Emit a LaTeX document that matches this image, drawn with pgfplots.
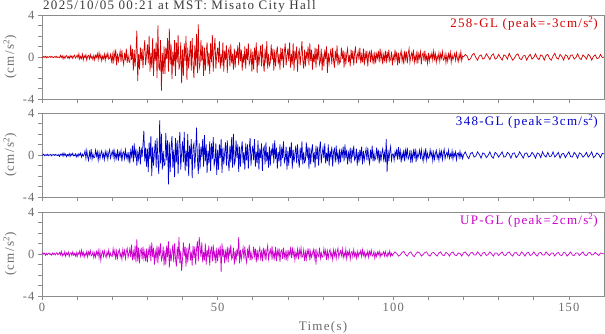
\documentclass[border=0pt]{standalone}
\usepackage{fontspec}
\setmainfont{Liberation Serif}[LetterSpace=10]
\usepackage{pgfplots}
\pgfplotsset{compat=1.18}

\definecolor{axgray}{HTML}{8C8C8C}
\definecolor{txtgray}{HTML}{6A6A6A}
\definecolor{ttlgray}{HTML}{3A3A3A}
\definecolor{trred}{HTML}{D40000}
\definecolor{trblue}{HTML}{0000CC}
\definecolor{trmag}{HTML}{CC00CC}

\pgfplotsset{
  seis/.style={
    scale only axis, width=562bp, height=84bp,
    anchor=south west, clip mode=individual,
    xmin=0, xmax=160, ymin=-4, ymax=4,
    axis line style={axgray, line width=0.7bp},
    tick style={axgray, line width=0.7bp},
    tick align=outside, tick pos=left,
    major tick length=4bp, minor tick length=4bp,
    xtick={0,50,100,150},
    minor xtick={10,20,30,40,60,70,80,90,110,120,130,140},
    ytick={-4,0,4}, yticklabels={-4,0,4},
    minor ytick={-3,-2,-1,1,2,3},
    every tick label/.append style={font=\fontsize{12.5bp}{14bp}\selectfont, text=txtgray},
    ylabel={(cm/s\textsuperscript{2})},
    every axis y label/.style={at={(axis description cs:-0.057,0.5)}, rotate=90, anchor=center,
      font=\fontsize{13bp}{15bp}\selectfont, text=txtgray},
    every axis x label/.style={at={(axis description cs:0.5,0)}, anchor=base, yshift=-34bp,
      font=\fontsize{13bp}{15bp}\selectfont, text=txtgray},
  },
}
\tikzset{
  tag/.style={anchor=north east, inner sep=0pt, xshift=-6bp, yshift=-1.5bp,
    font=\fontsize{13bp}{15bp}\selectfont},
}
% strong part sampled every 0.25 s, the coda every 0.5 s

\begin{document}
\begin{tikzpicture}
\useasboundingbox (0,0) rectangle (605bp,334bp);

% 258-GL: 0-120 s
\begin{axis}[seis, at={(42bp,235bp)}, xticklabels={}]
\addplot[trred, line width=0.7bp] table[row sep=\\, header=false, x expr=\coordindex*0.25, y index=0] {
0\\-0.06\\0.05\\-0.02\\0.07\\-0.08\\0.03\\-0.04\\0.01\\0.06\\-0.05\\0.06\\-0.02\\-0.07\\0.04\\-0.03\\0.08\\-0.06\\0.02\\-0.04\\
-0.07\\0.16\\-0.04\\0.11\\-0.18\\0.09\\-0.13\\0.05\\0.14\\-0.09\\0.04\\-0.16\\0.13\\-0.05\\0.11\\-0.14\\0.07\\0.18\\-0.11\\0.02\\
0.18\\-0.09\\0.3\\-0.21\\0.06\\-0.15\\0.27\\-0.27\\0.12\\-0.06\\0.21\\-0.3\\0.09\\0.15\\-0.18\\0.24\\-0.12\\0.06\\-0.24\\0.15\\
-0.28\\0.16\\-0.04\\0.32\\-0.24\\0.4\\-0.12\\0.2\\-0.36\\0.08\\-0.16\\0.28\\-0.32\\0.24\\-0.08\\0.36\\-0.2\\-0.12\\0.24\\-0.4\\
0.24\\-0.64\\0.48\\-0.16\\0.72\\-0.8\\0.32\\-0.4\\0.08\\0.56\\-0.48\\0.64\\-0.24\\-0.72\\0.4\\-0.32\\0.8\\-0.56\\0.16\\-0.4\\
-0.52\\1.17\\-0.26\\0.78\\-1.3\\0.65\\-0.91\\0.39\\2.5\\-2.3\\0.26\\-1.17\\0.91\\-0.39\\0.78\\-1.04\\0.52\\1.6\\-0.78\\0.13\\
1.2\\-0.6\\2.0\\-1.4\\0.4\\-1.0\\1.8\\-1.8\\0.8\\-0.4\\1.4\\-2.0\\3.0\\-1.0\\-1.2\\1.6\\-3.2\\0.4\\-1.6\\1.0\\
-1.6\\0.9\\-0.2\\1.8\\-1.4\\2.7\\-0.7\\1.2\\-2.1\\0.5\\-0.9\\1.6\\-1.8\\1.4\\-0.5\\2.1\\-1.2\\-0.7\\1.4\\-2.5\\
0.7\\-1.8\\1.3\\-0.4\\2.0\\-2.2\\0.9\\-1.1\\0.2\\1.5\\-1.3\\1.8\\-0.7\\-2.0\\1.1\\-0.9\\2.2\\-1.5\\3.1\\-1.1\\
-0.7\\1.6\\-0.4\\1.1\\-1.8\\0.9\\-1.3\\0.5\\1.4\\-0.9\\0.4\\-1.6\\1.3\\-0.5\\2.1\\-1.4\\0.7\\1.8\\-1.1\\0.2\\
0.9\\-0.5\\1.5\\-1.1\\0.3\\-0.8\\1.4\\-1.4\\0.6\\-0.3\\1.1\\-1.5\\0.5\\0.8\\-0.9\\1.2\\-0.6\\0.3\\-1.2\\0.8\\
-1.0\\0.6\\-0.1\\1.1\\-0.8\\1.4\\-0.4\\0.7\\-1.3\\0.3\\-0.6\\1.0\\-1.1\\0.8\\-0.3\\1.3\\-0.7\\-0.4\\0.8\\-1.4\\
0.5\\-1.2\\0.9\\-0.3\\1.4\\-1.5\\0.6\\-0.8\\0.2\\1.1\\-0.9\\1.2\\-0.5\\-1.4\\0.8\\-0.6\\1.5\\-1.1\\0.3\\-0.8\\
-0.5\\1.2\\-0.3\\0.8\\-1.3\\0.7\\-0.9\\0.4\\1.0\\-0.7\\0.3\\-1.2\\0.9\\-0.4\\0.8\\-1.0\\0.5\\1.3\\-0.8\\0.1\\
0.8\\-0.4\\1.4\\-1.0\\0.3\\-0.7\\1.3\\-1.3\\0.6\\-0.3\\1.0\\-1.4\\0.4\\0.7\\-0.8\\0.3\\1.5\\-0.3\\-1.1\\0.7\\
-0.9\\0.5\\-0.1\\1.0\\-0.8\\1.3\\-0.4\\0.7\\-1.2\\0.3\\-0.5\\0.9\\-1.0\\0.8\\-0.3\\1.2\\-0.7\\-0.4\\0.8\\-1.3\\
0.3\\-0.9\\0.7\\-0.2\\1.0\\-1.5\\0.4\\-0.6\\0.1\\0.8\\-0.7\\0.9\\-0.3\\-1.0\\0.6\\-0.4\\1.1\\-0.8\\0.2\\-0.6\\
-0.4\\0.9\\-0.2\\0.6\\-1.0\\0.5\\-0.7\\0.3\\0.8\\-0.5\\0.2\\-0.9\\0.7\\-0.3\\0.6\\-0.8\\0.4\\1.0\\-0.6\\0.1\\
0.5\\-0.3\\0.9\\-0.6\\0.2\\-0.5\\0.8\\-0.8\\0.4\\-0.2\\0.6\\-0.9\\0.3\\0.5\\-0.5\\0.7\\-0.4\\0.2\\-0.7\\0.5\\
-0.6\\0.3\\-0.1\\0.6\\-0.5\\0.8\\-0.2\\0.4\\-0.7\\0.2\\-0.3\\0.6\\-0.6\\0.5\\-0.2\\0.7\\-0.4\\-0.2\\0.5\\-0.8\\
0.1\\
-0.3\\0.7\\-0.2\\0.5\\-0.8\\0.4\\-0.6\\0.2\\0.6\\-0.4\\0.2\\-0.7\\0.6\\-0.2\\0.5\\-0.6\\0.3\\0.8\\-0.5\\0.1\\
0.4\\-0.2\\0.7\\-0.5\\0.1\\-0.4\\0.6\\-0.6\\0.3\\-0.1\\0.5\\-0.7\\0.2\\0.4\\-0.4\\0.6\\-0.3\\0.1\\-0.6\\0.4\\
-0.4\\0.2\\-0.1\\0.4\\-0.3\\0.55\\-0.2\\0.3\\-0.5\\0.1\\-0.2\\0.4\\-0.4\\0.3\\-0.1\\0.5\\-0.3\\-0.2\\0.3\\-0.55\\
0.15\\-0.4\\0.3\\-0.1\\0.45\\-0.5\\0.2\\-0.25\\0.05\\0.35\\-0.3\\0.4\\-0.15\\-0.45\\0.25\\-0.2\\0.5\\-0.35\\0.1\\0.0\\
};
% 258-GL: 120-160 s
\addplot[trred, line width=0.7bp] table[row sep=\\, header=false, x expr=120+\coordindex*0.5, y index=0] {
0.0\\0.25\\0.1\\-0.3\\-0.15\\0.2\\0.35\\-0.05\\-0.3\\0.1\\
0.2\\-0.2\\-0.1\\0.3\\0.05\\-0.25\\0.15\\0.3\\-0.2\\-0.1\\
0.25\\-0.05\\-0.3\\0.2\\0.1\\-0.2\\0.35\\0.0\\-0.3\\-0.1\\
0.2\\0.3\\-0.15\\-0.25\\0.1\\0.15\\-0.3\\0.05\\0.25\\-0.2\\
-0.05\\0.3\\-0.1\\-0.25\\0.2\\0.1\\-0.3\\0.15\\0.25\\-0.15\\
-0.3\\0.1\\0.35\\-0.1\\-0.2\\0.25\\0.05\\-0.3\\0.2\\0.1\\
-0.25\\0.15\\0.2\\-0.2\\-0.05\\0.3\\-0.1\\-0.25\\0.2\\0.05\\
-0.2\\0.25\\0.1\\-0.3\\0.05\\0.2\\-0.15\\-0.1\\0.25\\-0.05\\
0.0\\
};
\node[tag, text=trred] at (rel axis cs:1,1) {258-GL (peak=-3cm/s\textsuperscript{2})};
\node[anchor=base west, inner sep=0pt, xshift=1bp, yshift=5.5bp, text=ttlgray,
  font=\fontsize{13bp}{15bp}\selectfont] at (rel axis cs:0,1)
  {2025/10/05 00:21 at MST: Misato City Hall};
\end{axis}

% 348-GL: 0-120 s
\begin{axis}[seis, at={(42bp,137bp)}, xticklabels={}]
\addplot[trblue, line width=0.7bp] table[row sep=\\, header=false, x expr=\coordindex*0.25, y index=0] {
0\\-0.02\\0.08\\-0.06\\0.02\\-0.04\\0.07\\-0.07\\0.03\\-0.02\\0.06\\-0.08\\0.02\\0.04\\-0.05\\0.06\\-0.03\\0.02\\-0.06\\0.04\\
-0.13\\0.07\\-0.02\\0.14\\-0.11\\0.18\\-0.05\\0.09\\-0.16\\0.04\\-0.07\\0.13\\-0.14\\0.11\\-0.04\\0.16\\-0.09\\-0.05\\0.11\\-0.18\\
0.06\\-0.16\\0.12\\-0.04\\0.18\\-0.2\\0.08\\-0.1\\0.05\\0.39\\-0.33\\0.44\\-0.17\\-0.5\\0.28\\-0.22\\0.55\\-0.39\\0.11\\-0.28\\
-0.2\\0.45\\-0.1\\0.3\\-0.5\\0.25\\-0.35\\0.15\\0.4\\-0.25\\0.1\\-0.45\\0.35\\-0.15\\0.3\\-0.4\\0.2\\0.5\\-0.3\\0.05\\
0.36\\-0.18\\0.6\\-0.42\\0.12\\-0.3\\0.54\\-0.54\\0.24\\-0.12\\0.42\\-0.6\\0.18\\0.3\\-0.36\\0.48\\-0.24\\0.12\\-0.48\\0.3\\
-0.8\\0.4\\-0.1\\0.9\\-0.7\\1.1\\-0.3\\0.6\\-1.0\\0.2\\-0.4\\0.8\\-0.9\\0.7\\-0.2\\1.0\\2.3\\-0.6\\0.7\\-1.1\\
0.6\\-1.6\\1.2\\-0.4\\1.8\\-2.0\\0.8\\-1.0\\0.2\\1.4\\-1.2\\1.6\\-0.6\\-1.8\\3.3\\-0.8\\2.0\\-1.4\\0.4\\-1.0\\
-0.9\\2.1\\-0.5\\1.4\\-2.8\\1.2\\-1.6\\0.7\\1.8\\-1.2\\0.5\\-2.1\\1.6\\-0.7\\1.4\\-1.8\\0.9\\2.2\\-1.4\\0.2\\
1.3\\-0.7\\2.2\\-1.5\\0.4\\-1.1\\2.0\\-2.0\\0.9\\-0.4\\1.5\\-2.2\\0.7\\1.1\\-1.3\\0.3\\2.6\\-0.4\\-1.8\\1.1\\
-1.3\\0.8\\-0.2\\1.5\\-1.1\\1.9\\-0.6\\1.0\\-1.7\\0.4\\-0.8\\1.3\\-1.5\\1.1\\-0.4\\1.7\\-1.0\\-0.6\\1.1\\-1.9\\
0.5\\-1.4\\1.0\\-0.3\\1.5\\-1.7\\0.7\\-0.9\\0.2\\1.2\\-1.0\\1.4\\-0.5\\-1.5\\0.9\\-0.7\\1.7\\-1.2\\2.0\\-0.9\\
-0.6\\1.4\\-0.3\\1.0\\-1.6\\0.8\\-1.1\\0.5\\1.3\\-0.8\\0.3\\-1.4\\1.1\\-0.5\\1.0\\-1.3\\0.6\\1.6\\-1.0\\0.2\\
0.9\\-0.5\\1.5\\-1.1\\0.3\\-0.8\\1.4\\-1.4\\0.6\\-0.3\\1.1\\-1.5\\0.5\\0.8\\-0.9\\1.2\\-0.6\\0.3\\-1.2\\0.8\\
-1.0\\0.6\\-0.1\\1.1\\-0.8\\1.4\\-0.4\\0.7\\-1.3\\0.3\\-0.6\\1.0\\-1.1\\0.8\\-0.3\\1.3\\-0.7\\-0.4\\0.8\\-1.4\\
0.4\\-1.0\\0.8\\-0.3\\1.2\\-1.3\\0.5\\-0.7\\0.1\\0.9\\-0.8\\1.0\\-0.4\\-1.2\\0.7\\-0.5\\1.3\\-0.9\\0.3\\-0.7\\
-0.5\\1.2\\-0.3\\0.8\\-1.3\\0.7\\-0.9\\0.4\\1.0\\-0.7\\0.3\\-1.2\\0.9\\-0.4\\0.8\\-1.0\\0.5\\1.3\\-0.8\\0.1\\
0.7\\-0.3\\1.1\\-0.8\\0.2\\-0.6\\1.0\\-1.0\\0.4\\-0.2\\0.8\\-1.1\\0.3\\0.6\\-0.7\\0.9\\-0.4\\0.2\\-0.9\\0.6\\
-0.7\\0.4\\-0.1\\0.8\\-0.6\\1.0\\-0.3\\0.5\\-0.9\\0.2\\-0.4\\0.7\\-0.8\\0.6\\-0.2\\0.9\\-0.5\\-0.3\\0.6\\-1.0\\
0.3\\-0.7\\0.5\\-0.2\\0.8\\-0.9\\0.4\\-0.5\\0.1\\0.6\\-0.5\\0.7\\-0.3\\-0.8\\0.5\\-0.4\\0.9\\-0.6\\0.2\\-0.5\\
-0.3\\0.7\\-0.2\\0.5\\-0.8\\0.4\\-0.6\\0.2\\0.6\\-0.4\\0.2\\-0.7\\1.5\\-1.6\\0.5\\-0.6\\0.3\\0.8\\-0.5\\0.1\\
0.1\\
-0.5\\0.3\\-0.1\\0.6\\-0.45\\0.75\\-0.2\\0.4\\-0.7\\0.15\\-0.3\\0.5\\-0.6\\0.45\\-0.15\\0.7\\-0.4\\-0.2\\0.45\\-0.75\\
0.2\\-0.5\\0.4\\-0.15\\0.6\\-0.65\\0.25\\-0.3\\0.05\\0.45\\-0.4\\0.5\\-0.2\\-0.6\\0.3\\-0.25\\0.65\\-0.45\\0.15\\-0.3\\
-0.2\\0.5\\-0.1\\0.3\\-0.55\\0.25\\-0.4\\0.15\\0.45\\-0.3\\0.1\\-0.5\\0.4\\-0.15\\0.35\\-0.45\\0.2\\0.55\\-0.35\\0.05\\
0.25\\-0.15\\0.45\\-0.3\\0.1\\-0.2\\0.4\\-0.4\\0.2\\-0.1\\0.3\\-0.45\\0.15\\0.2\\-0.25\\0.35\\-0.2\\0.1\\-0.35\\0.0\\
};
% 348-GL: 120-160 s
\addplot[trblue, line width=0.7bp] table[row sep=\\, header=false, x expr=120+\coordindex*0.5, y index=0] {
0.0\\0.3\\-0.1\\-0.35\\0.15\\0.25\\-0.2\\-0.1\\0.3\\0.05\\
-0.3\\0.2\\0.1\\-0.25\\-0.05\\0.3\\-0.15\\-0.3\\0.25\\0.1\\
-0.2\\0.05\\0.3\\-0.2\\-0.15\\0.25\\0.1\\-0.3\\0.15\\0.2\\
-0.25\\-0.05\\0.3\\0.0\\-0.3\\0.15\\0.2\\-0.2\\-0.1\\0.25\\
0.05\\-0.3\\0.2\\0.1\\-0.25\\0.3\\-0.05\\-0.2\\0.25\\-0.15\\
-0.1\\0.3\\-0.2\\0.0\\0.25\\-0.3\\0.1\\0.15\\-0.25\\0.05\\
0.3\\-0.15\\-0.2\\0.25\\0.05\\-0.3\\0.2\\0.1\\-0.2\\-0.05\\
0.25\\-0.2\\0.0\\0.3\\-0.25\\-0.1\\0.2\\0.05\\-0.25\\0.15\\
0.1\\
};
\node[tag, text=trblue] at (rel axis cs:1,1) {348-GL (peak=3cm/s\textsuperscript{2})};
\end{axis}

% UP-GL: 0-100 s
\begin{axis}[seis, at={(42bp,38bp)}, xticklabels={0,50,100,150}, xlabel={Time(s)}]
\addplot[trmag, line width=0.7bp] table[row sep=\\, header=false, x expr=\coordindex*0.25, y index=0] {
0\\0.11\\-0.02\\0.07\\-0.12\\0.06\\-0.08\\0.04\\0.1\\-0.06\\0.02\\-0.11\\0.08\\-0.04\\0.07\\-0.1\\0.05\\0.12\\-0.07\\0.01\\
0.15\\-0.08\\0.25\\-0.18\\0.05\\-0.13\\0.23\\-0.23\\0.1\\-0.05\\0.18\\-0.25\\0.08\\0.13\\-0.15\\0.2\\-0.1\\0.05\\-0.2\\0.13\\
-0.25\\0.14\\-0.04\\0.28\\-0.21\\0.35\\-0.11\\0.18\\-0.32\\0.07\\-0.14\\0.25\\-0.28\\0.21\\-0.07\\0.32\\-0.18\\-0.11\\0.21\\-0.35\\
0.11\\-0.3\\0.23\\-0.08\\0.34\\-0.38\\0.3\\-0.6\\0.04\\0.27\\-0.23\\0.3\\-0.11\\-0.34\\0.19\\-0.15\\0.38\\-0.27\\0.08\\-0.19\\
-0.22\\0.5\\-0.11\\0.33\\-0.55\\0.28\\-0.39\\0.17\\0.44\\-0.28\\0.11\\-0.5\\0.39\\-0.17\\0.33\\-0.44\\0.22\\0.55\\-0.33\\0.06\\
0.5\\-0.3\\0.9\\-0.6\\0.2\\-0.5\\0.8\\-0.8\\1.4\\-0.7\\0.6\\-0.9\\0.3\\0.5\\-0.5\\0.7\\-0.4\\0.2\\-0.7\\0.5\\
-0.8\\0.4\\-0.1\\0.9\\-0.7\\1.1\\-0.3\\0.6\\-1.0\\0.2\\-0.4\\0.8\\-0.9\\0.7\\-0.2\\1.0\\-0.6\\-0.3\\0.7\\-1.1\\
0.4\\-1.0\\0.8\\-0.3\\1.2\\-1.3\\0.5\\-0.7\\0.1\\0.9\\-0.8\\1.0\\-0.4\\-1.2\\0.7\\-0.5\\1.6\\-0.9\\0.3\\-1.6\\
-0.5\\1.1\\-0.2\\0.7\\-1.2\\0.6\\-0.8\\0.4\\1.0\\-0.6\\0.2\\-1.1\\0.8\\-0.4\\0.7\\-1.0\\0.5\\1.2\\-0.7\\1.6\\
0.7\\-0.3\\1.1\\-0.8\\0.2\\-0.6\\1.0\\-1.0\\0.4\\-0.2\\0.8\\-1.1\\0.3\\0.6\\-0.7\\0.9\\-0.4\\0.2\\-0.9\\0.6\\
-0.7\\0.4\\-0.1\\0.8\\-1.7\\1.0\\-0.3\\0.5\\-0.9\\0.2\\-0.4\\0.7\\-0.8\\0.6\\-0.2\\0.9\\-0.5\\-0.3\\0.6\\-1.0\\
0.3\\-0.7\\0.5\\-0.2\\1.6\\-0.9\\0.4\\-0.5\\0.1\\0.6\\-0.5\\0.7\\-0.3\\-0.8\\0.5\\-0.4\\0.9\\-0.6\\0.2\\-0.5\\
-0.3\\0.7\\-0.2\\0.5\\-0.8\\0.4\\-0.6\\0.2\\0.6\\-0.4\\0.2\\-0.7\\0.6\\-0.2\\0.5\\-0.6\\0.3\\0.8\\-0.5\\0.1\\
0.45\\-0.23\\0.75\\-0.53\\0.15\\-0.38\\0.68\\-0.68\\0.3\\-0.15\\0.53\\-0.75\\0.23\\0.38\\-0.45\\0.6\\-0.3\\0.15\\-0.6\\0.38\\
-0.46\\0.26\\-0.07\\0.52\\-0.39\\0.65\\-0.2\\0.33\\-0.59\\0.13\\-0.26\\0.46\\-0.52\\0.39\\-0.13\\0.59\\-0.33\\-0.2\\0.39\\-0.65\\
0.18\\-0.48\\0.36\\-0.12\\0.54\\-0.6\\0.24\\-0.3\\0.06\\0.42\\-0.36\\0.48\\-1.0\\0.3\\-0.1\\-0.24\\0.6\\-0.42\\0.12\\-0.3\\
-0.22\\0.5\\-0.11\\0.33\\-0.55\\0.28\\-0.39\\0.17\\0.44\\-0.28\\0.11\\-0.5\\0.39\\-0.17\\0.33\\-0.44\\0.22\\0.55\\-0.33\\0.06\\
0.3\\-0.15\\0.5\\-0.35\\0.1\\-0.25\\0.45\\-0.45\\0.2\\-0.1\\0.35\\-0.5\\0.15\\0.25\\-0.3\\0.4\\-0.2\\0.1\\-0.4\\0.25\\
-0.28\\0.16\\-0.04\\0.32\\-0.24\\0.4\\-0.12\\0.2\\-0.36\\0.08\\-0.16\\0.28\\-0.32\\0.24\\-0.08\\0.36\\-0.2\\-0.12\\0.24\\-0.4\\
0.09\\-0.24\\0.18\\-0.06\\0.27\\-0.3\\0.12\\-0.15\\0.03\\0.21\\-0.18\\0.24\\-0.09\\-0.27\\0.15\\-0.12\\0.3\\-0.21\\0.06\\-0.15\\
0.0\\
};
% UP-GL: 100-160 s
\addplot[trmag, line width=0.7bp] table[row sep=\\, header=false, x expr=100+\coordindex*0.5, y index=0] {
0.0\\0.2\\0.05\\-0.2\\-0.1\\0.15\\0.25\\-0.05\\-0.2\\0.1\\
0.2\\-0.1\\-0.25\\0.05\\0.2\\0.1\\-0.2\\-0.05\\0.15\\0.2\\
-0.1\\-0.2\\0.1\\0.15\\-0.05\\-0.2\\0.1\\0.2\\-0.1\\-0.15\\
0.15\\0.05\\-0.2\\0.1\\0.2\\-0.1\\-0.15\\0.1\\0.05\\-0.2\\
0.1\\0.2\\-0.05\\-0.2\\0.1\\0.15\\-0.1\\-0.1\\0.2\\0.0\\
-0.2\\0.1\\0.15\\-0.15\\-0.05\\0.2\\0.0\\-0.2\\0.1\\0.1\\
-0.15\\0.05\\0.2\\-0.1\\-0.15\\0.1\\0.2\\-0.05\\-0.2\\0.1\\
0.15\\-0.1\\-0.15\\0.2\\0.05\\-0.2\\0.1\\0.15\\-0.15\\-0.05\\
0.2\\-0.05\\-0.2\\0.1\\0.15\\-0.1\\-0.1\\0.2\\0.0\\-0.15\\
0.1\\0.1\\-0.2\\0.05\\0.15\\-0.1\\-0.15\\0.15\\0.1\\-0.2\\
0.0\\0.2\\-0.1\\-0.15\\0.1\\0.1\\-0.15\\0.05\\0.2\\-0.1\\
-0.15\\0.1\\0.15\\-0.1\\-0.05\\0.15\\0.0\\-0.15\\0.1\\0.05\\
0.0\\
};
\node[tag, text=trmag] at (rel axis cs:1,1) {UP-GL (peak=2cm/s\textsuperscript{2})};
\end{axis}
\end{tikzpicture}
\end{document}
